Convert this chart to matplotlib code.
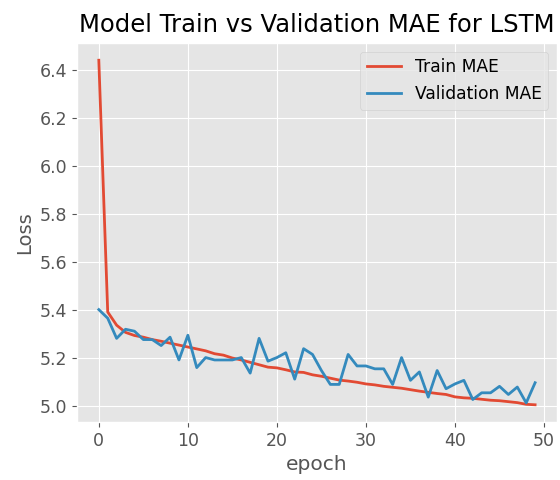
import numpy as np
import matplotlib
matplotlib.use("Agg")
import matplotlib.pyplot as plt

plt.style.use("ggplot")

# values
train_mae = [6.44, 5.39, 5.335, 5.305, 5.292, 5.285, 5.275, 5.268, 5.26, 5.252,
             5.244, 5.236, 5.228, 5.216, 5.21, 5.198, 5.19, 5.18, 5.17, 5.16,
             5.157, 5.149, 5.14, 5.138, 5.128, 5.122, 5.114, 5.106, 5.102, 5.097,
             5.09, 5.086, 5.08, 5.076, 5.072, 5.066, 5.06, 5.055, 5.05, 5.046,
             5.036, 5.032, 5.03, 5.026, 5.022, 5.02, 5.016, 5.012, 5.005, 5.003]
val_mae = [5.40, 5.364, 5.28, 5.318, 5.31, 5.275, 5.275, 5.25, 5.285, 5.19,
           5.293, 5.158, 5.20, 5.19, 5.19, 5.19, 5.20, 5.135, 5.28, 5.185,
           5.20, 5.22, 5.11, 5.237, 5.213, 5.146, 5.088, 5.088, 5.213, 5.165,
           5.165, 5.153, 5.153, 5.088, 5.20, 5.105, 5.14, 5.035, 5.146, 5.07,
           5.09, 5.105, 5.025, 5.053, 5.053, 5.08, 5.046, 5.077, 5.011, 5.095]
epochs = np.arange(len(train_mae))

fig = plt.figure(figsize=(5.6, 4.8), dpi=100)
ax = fig.add_axes([0.1375, 0.1208, 0.857, 0.7896])

ax.plot(epochs, train_mae, color="#E24A33", lw=2.0, label="Train MAE")
ax.plot(epochs, val_mae, color="#348ABD", lw=2.0, label="Validation MAE")

ax.set_title("Model Train vs Validation MAE for LSTM", fontsize=17.5, pad=8)
ax.set_xlabel("epoch", fontsize=14.5)
ax.set_ylabel("Loss", fontsize=14)
ax.tick_params(labelsize=12.5)
ax.legend(loc="upper right", fontsize=12.3)

fig.savefig("out.png", dpi=100)
